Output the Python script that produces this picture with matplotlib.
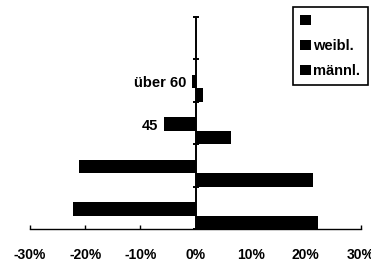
import numpy as np
import matplotlib
matplotlib.use('Agg')
import matplotlib.pyplot as plt

plt.rcParams['font.family'] = ['Liberation Sans', 'DejaVu Sans']
plt.rcParams['font.weight'] = 'bold'

# age groups bottom to top, only two have a label in the picture
groups = ['', '', '45', 'über 60', '']
# values in percent, left side negative
weibl = [-22.2, -21.1, -5.8, -0.7, 0.0]
maennl = [22.2, 21.3, 6.4, 1.3, 0.0]
leer = [0.0, 0.0, 0.0, 0.0, 0.0]  # third series that is empty in the legend
series_names = ['', 'weibl.', 'männl.']
xticks = [-30, -20, -10, 0, 10, 20, 30]

fig = plt.figure(figsize=(3.71, 2.63), dpi=100)
ax = fig.add_axes([30/371, 34/263, 331/371, 212/263])

y = np.arange(len(groups))
h = 0.318
b1 = ax.barh(y - 0.345, maennl, height=h, color='black')
b2 = ax.barh(y - 0.027, weibl, height=h, color='black')
b3 = ax.barh(y + 0.29, leer, height=h, color='black')

# labels next to the left bars
for i, lab in enumerate(groups):
    if lab:
        ax.annotate(lab, (weibl[i], y[i] - 0.027), xytext=(-4, -1), textcoords='offset points',
                    ha='right', va='center', fontsize=10.5, fontweight='bold')

ax.set_xlim(-30, 30)
ax.set_ylim(-0.5, len(groups) - 0.5)
ax.spines['top'].set_visible(False)
ax.spines['right'].set_visible(False)
ax.spines['left'].set_position(('data', 0))
ax.spines['left'].set_linewidth(1.4)
ax.spines['bottom'].set_linewidth(1.0)

ax.set_yticks(np.arange(len(groups) + 1) - 0.5)
ax.set_yticklabels([])
ax.tick_params(axis='y', direction='inout', length=5, width=1.4)
ax.set_xticks(xticks)
ax.set_xticklabels([f'{t}%' for t in xticks], fontsize=10, fontweight='bold')
ax.tick_params(axis='x', direction='in', length=3, width=1, pad=14)

leg = fig.legend([b3, b2, b1], series_names, loc='upper left',
                 bbox_to_anchor=(293/371, 1 - 7/263), borderaxespad=0,
                 prop={'size': 10.5, 'weight': 'bold'}, handlelength=0.7, handleheight=0.7,
                 handletextpad=0.2, labelspacing=0.75, borderpad=0.5, fancybox=False,
                 framealpha=1)
leg.get_frame().set_edgecolor('black')
leg.get_frame().set_linewidth(1.2)

fig.savefig('out.png', dpi=100)
